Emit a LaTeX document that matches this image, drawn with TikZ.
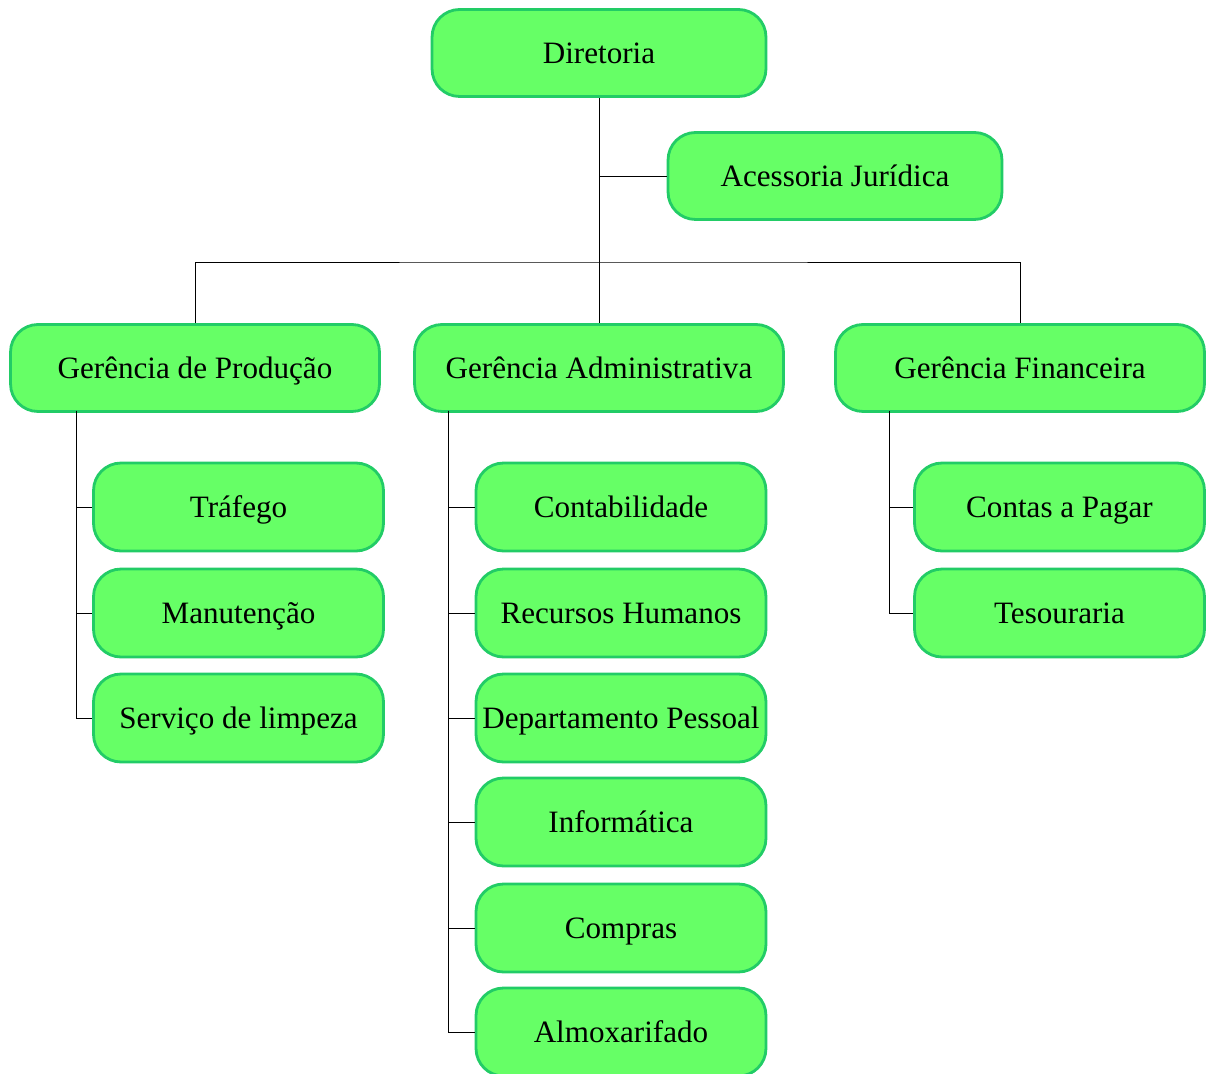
\documentclass[tikz,border=0pt]{standalone}
\usepackage{fontspec}
\setmainfont{Liberation Serif}
\usetikzlibrary{positioning}

\definecolor{boxfill}{HTML}{66FF66}
\definecolor{boxline}{HTML}{22CC66}

\tikzset{
  unit/.style={draw=boxline, fill=boxfill, line width=1.6pt, rounded corners=0.55cm,
    minimum height=1.74cm, inner sep=0pt, text height=1.22em, text depth=0.06em,
    font=\fontsize{17.7}{20}\selectfont},
  topbox/.style={unit, minimum width=6.68cm},
  gerbox/.style={unit, minimum width=7.38cm},
  subbox/.style={unit, minimum width=5.8cm, minimum height=1.76cm},
  link/.style={black, line width=0.5pt},
}

\begin{document}
\begin{tikzpicture}[x=0.02cm, y=-0.02cm]
\useasboundingbox (0,0) rectangle (1207,1074);

% top
\node[topbox] (dir) at (599,53) {Diretoria};
\node[topbox] (acj) at (835,176) {Acessoria Jurídica};
\coordinate (bus) at (599,262);

% gerencias
\node[gerbox] (prod) at (195,368) {Gerência de Produção};
\node[gerbox] (adm) at (599,368) {Gerência Administrativa};
\node[gerbox] (fin) at (1020,368) {Gerência Financeira};

\draw[link] (dir.south) -- (bus);
\draw[link] (dir.south |- acj.west) -- (acj.west);
\draw[link] (prod.north) |- (bus) -| (fin.north);
\draw[link] (bus) -- (adm.north);

% producao
\coordinate (pt) at (76,411);
\foreach \name/\y/\txt in {traf/507/Tráfego, manu/613/Manutenção, limp/718/Serviço de limpeza} {
  \node[subbox] (\name) at (238.5,\y) {\txt};
  \draw[link] (pt) |- (\name.west);
}

% administrativa
\coordinate (at) at (448,411);
\foreach \name/\y/\txt in {cont/507/Contabilidade, rh/613/Recursos Humanos, dp/718/Departamento Pessoal,
    info/822/Informática, comp/928/Compras, almo/1032/Almoxarifado} {
  \node[subbox] (\name) at (621,\y) {\txt};
  \draw[link] (at) |- (\name.west);
}

% financeira
\coordinate (ft) at (889,411);
\foreach \name/\y/\txt in {cpag/507/Contas a Pagar, teso/613/Tesouraria} {
  \node[subbox] (\name) at (1059.5,\y) {\txt};
  \draw[link] (ft) |- (\name.west);
}
\end{tikzpicture}
\end{document}
